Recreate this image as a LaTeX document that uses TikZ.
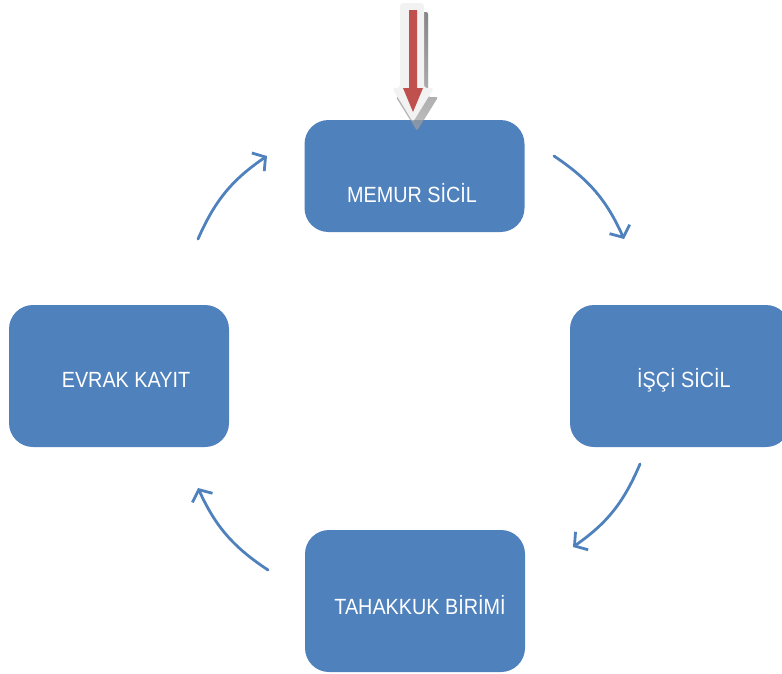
\documentclass[tikz,border=0pt]{standalone}
\usepackage{fontspec}
\setmainfont{Liberation Sans}
\usetikzlibrary{arrows.meta}
\definecolor{boxblue}{HTML}{4F81BD}
\definecolor{arrowred}{HTML}{C0504D}
\definecolor{glow}{HTML}{F2F2F2}
\definecolor{shade}{HTML}{6A2A2A}
\newcommand{\lbltext}[1]{\scalebox{0.9}[1]{#1}}
\begin{document}
\begin{tikzpicture}[x=1pt,y=-1pt,
  stage/.style={draw=none,fill=boxblue,rounded corners=24pt,
    minimum width=220pt,minimum height=142pt,inner sep=0pt},
  lbl/.style={text=white,inner sep=0pt,font=\fontsize{22}{26}\selectfont},
  cyc/.style={draw=boxblue,line width=2.8pt,line cap=round,
    -{Straight Barb[length=9pt,width=22pt,line width=2.8pt]},bend left=16}]
\useasboundingbox (0,0) rectangle (782,673);
% boxes
\node[stage,minimum height=112pt] (memur) at (414.5,176) {};
\node[lbl] (memurt) at (412,193) {\lbltext{MEMUR SİCİL}};
\node[stage] (isci) at (680,376) {};
\node[lbl] (iscit) at (684,380) {\lbltext{İŞÇİ SİCİL}};
\node[stage] (evrak) at (119,376) {};
\node[lbl] (evrakt) at (126,380) {\lbltext{EVRAK KAYIT}};
\node[stage] (tahakkuk) at (415,601) {};
\node[lbl] (tahakkukt) at (420,605) {\lbltext{TAHAKKUK BİRİMİ}};
% cycle arrow end points
\coordinate (a1) at (554,156); \coordinate (b1) at (624,239);
\coordinate (a2) at (640,464); \coordinate (b2) at (573,547);
\coordinate (a3) at (268,570); \coordinate (b3) at (198,488);
\coordinate (a4) at (198,239); \coordinate (b4) at (267,156);
\draw[cyc] (a1) to (b1);
\draw[cyc] (a2) to (b2);
\draw[cyc] (a3) to (b3);
\draw[cyc] (a4) to (b4);
% red block arrow with glow and shadow
\fill[shade,opacity=0.45,rounded corners=2pt,shift={(4,9)}]
  (400,3) -- (424,3) -- (424,88) -- (434,88) -- (413,122) -- (392,88) -- (400,88) -- cycle;
\fill[glow,rounded corners=3pt]
  (400,3) -- (424,3) -- (424,88) -- (434,88) -- (413,122) -- (392,88) -- (400,88) -- cycle;
\fill[arrowred]
  (409,10) -- (417,10) -- (417,88) -- (423,88) -- (413,112) -- (403,88) -- (409,88) -- cycle;
\end{tikzpicture}
\end{document}
